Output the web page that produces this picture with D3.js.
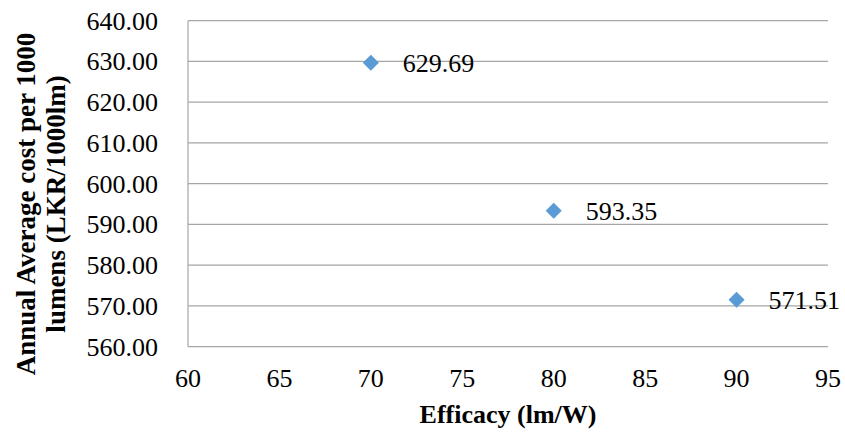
<!DOCTYPE html>
<html><head><meta charset="utf-8">
<script src="https://cdn.jsdelivr.net/npm/d3@7"></script>
<style>body{margin:0;background:#fff;} svg{display:block;} text{font-family:"Liberation Serif","Times New Roman",Times,serif;fill:#000;}</style>
</head><body>
<svg id="c" width="845" height="435"></svg>
<script>
const efficacy = [70, 80, 90];
const cost = [629.69, 593.35, 571.51];
const xTicks = [60, 65, 70, 75, 80, 85, 90, 95];
const yTicks = [560, 570, 580, 590, 600, 610, 620, 630, 640];
const xTitle = "Efficacy (lm/W)";
const yTitleLines = ["Annual Average cost per 1000", "lumens (LKR/1000lm)"];

const svg = d3.select("#c");
const L = 188, R = 828, T = 20.7, B = 346.7;
const x = d3.scaleLinear().domain([60, 95]).range([L, R]);
const y = d3.scaleLinear().domain([560, 640]).range([B, T]);
const grid = "#a6a6a6";
const fs = 26;

svg.append("g").selectAll("line").data(yTicks).join("line")
  .attr("x1", L).attr("x2", R).attr("y1", d => y(d)).attr("y2", d => y(d))
  .attr("stroke", grid).attr("stroke-width", 1.2);
svg.append("line").attr("x1", L).attr("x2", L).attr("y1", T).attr("y2", B)
  .attr("stroke", grid).attr("stroke-width", 1.2);

svg.append("g").selectAll("text").data(yTicks).join("text")
  .attr("x", 158).attr("y", d => y(d)).attr("dy", "0.34em")
  .attr("text-anchor", "end").attr("font-size", fs)
  .text(d => d.toFixed(2));
svg.append("g").selectAll("text").data(xTicks).join("text")
  .attr("x", d => x(d)).attr("y", 387)
  .attr("text-anchor", "middle").attr("font-size", fs)
  .text(d => d);

svg.append("text").attr("x", 508).attr("y", 423).attr("text-anchor", "middle")
  .attr("font-size", fs).attr("font-weight", "bold").text(xTitle);
const yt = svg.append("text").attr("transform", "translate(0,204) rotate(-90)")
  .attr("text-anchor", "middle").attr("font-size", 27).attr("font-weight", "bold");
yTitleLines.forEach((t, i) => yt.append("tspan").attr("x", 0).attr("y", 35 + i * 30).text(t));

const pts = efficacy.map((e, i) => ({e, c: cost[i]}));
svg.append("g").selectAll("path").data(pts).join("path")
  .attr("d", d3.symbol(d3.symbolDiamond2, 165))
  .attr("transform", d => `translate(${x(d.e)},${y(d.c)})`)
  .attr("fill", "#5b9bd5");
svg.append("g").selectAll("text").data(pts).join("text")
  .attr("x", d => x(d.e) + 32).attr("y", d => y(d.c)).attr("dy", "0.36em")
  .attr("font-size", fs).text(d => d.c.toFixed(2));
</script>
</body></html>
